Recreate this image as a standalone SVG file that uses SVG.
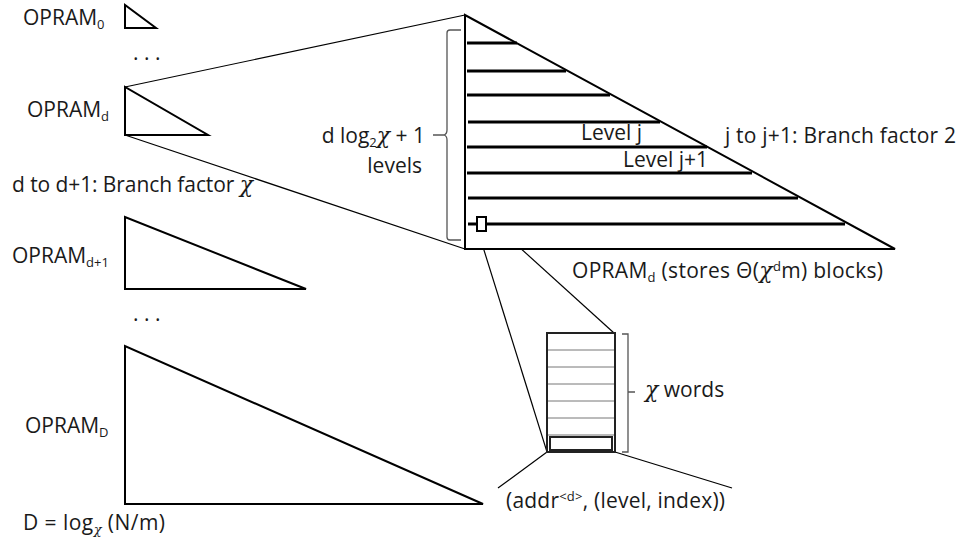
<svg xmlns="http://www.w3.org/2000/svg" width="963" height="546" viewBox="0 0 963 546">
<style>
text{font-family:"Open Sans","Noto Sans",sans-serif;font-size:21px;fill:#1a1a1a}
.sub{font-size:13px}
.chi{font-family:"DejaVu Serif","Liberation Serif",serif;font-style:italic;font-size:22px}
.tri{fill:#fff;stroke:#000;stroke-width:2;stroke-linejoin:miter}
.thin{stroke:#000;stroke-width:1.2;fill:none}
.lvl{stroke:#000;stroke-width:3}
.brace{stroke:#555;stroke-width:1.3;fill:none}
.row{stroke:#777;stroke-width:1}
</style>
<rect width="963" height="546" fill="#fff"/>
<g id="connectors">
<line class="thin" x1="125" y1="87" x2="465" y2="15"/>
<line class="thin" x1="125" y1="135" x2="465" y2="249"/>
<line class="thin" x1="486" y1="217" x2="614" y2="333"/>
<line class="thin" x1="478" y1="231" x2="547" y2="452"/>
<line class="thin" x1="547" y1="452" x2="498" y2="488"/>
<line class="thin" x1="615" y1="452" x2="732" y2="488"/>
</g>
<g id="opram0">
<polygon class="tri" points="125,5 125,28 156,28"/>
<text x="23" y="25">OPRAM<tspan class="sub" dy="4">0</tspan></text>
</g>
<text id="dots1" x="133" y="60">. . .</text>
<g id="opramd">
<polygon class="tri" points="125,87 125,135 208,135"/>
<text x="27" y="117">OPRAM<tspan class="sub" dy="4">d</tspan></text>
</g>
<text id="branch-chi" x="12" y="192" textLength="241">d to d+1: Branch factor <tspan class="chi">χ</tspan></text>
<g id="opramd1">
<polygon class="tri" points="125,217 125,289 306,289"/>
<text x="12" y="263">OPRAM<tspan class="sub" dy="4">d+1</tspan></text>
</g>
<text id="dots2" x="133" y="321">. . .</text>
<g id="opramD">
<polygon class="tri" points="125,346 125,504 483,504"/>
<text x="25" y="433">OPRAM<tspan class="sub" dy="4">D</tspan></text>
</g>
<text id="Ddef" x="23" y="530" textLength="142">D = log<tspan class="sub" dy="4" font-family="DejaVu Serif" font-style="italic">χ</tspan><tspan dy="-4"> (N/m)</tspan></text>
<g id="big-opramd">
<polygon class="tri" points="465,15 465,249 895,249"/>
<line class="lvl" x1="467" y1="43" x2="517" y2="43"/>
<line class="lvl" x1="467" y1="71" x2="566" y2="71"/>
<line class="lvl" x1="467" y1="95" x2="610" y2="95"/>
<line class="lvl" x1="468" y1="122" x2="660" y2="122"/>
<line class="lvl" x1="467" y1="147" x2="707" y2="147"/>
<line class="lvl" x1="467" y1="173" x2="752" y2="173"/>
<line class="lvl" x1="468" y1="198" x2="798" y2="198"/>
<line class="lvl" x1="468" y1="224" x2="845" y2="224"/>
<rect x="477" y="217" width="9" height="14" fill="#fff" stroke="#000" stroke-width="2"/>
<text x="581" y="140">Level j</text>
<text x="623" y="167">Level j+1</text>
<text x="572" y="278" textLength="311">OPRAM<tspan class="sub" dy="4">d</tspan><tspan dy="-4"> (stores Θ(</tspan><tspan class="chi">χ</tspan><tspan class="sub" dy="-7">d</tspan><tspan dy="7">m) blocks)</tspan></text>
</g>
<g id="levels-brace">
<path class="brace" d="M461,30 H450 Q447,30 447,33 V130 Q447,134 444,135 Q447,136 447,140 V237 Q447,240 450,240 H461 M433,135 H444"/>
<text x="425" y="143" text-anchor="end">d log<tspan class="sub" dy="4">2</tspan><tspan class="chi" dy="-4">χ</tspan> + 1</text>
<text x="422" y="173" text-anchor="end">levels</text>
</g>
<text id="branch-2" x="725" y="143" textLength="231">j to j+1: Branch factor 2</text>
<g id="block">
<rect x="547" y="333" width="68" height="119" fill="#fff" stroke="#222" stroke-width="2"/>
<line class="row" x1="548" y1="350" x2="614" y2="350"/>
<line class="row" x1="548" y1="367" x2="614" y2="367"/>
<line class="row" x1="548" y1="384" x2="614" y2="384"/>
<line class="row" x1="548" y1="401" x2="614" y2="401"/>
<line class="row" x1="548" y1="418" x2="614" y2="418"/>
<line class="row" x1="548" y1="435" x2="614" y2="435"/>
<rect x="550" y="437" width="62" height="13" fill="#fff" stroke="#222" stroke-width="2"/>
<path class="brace" d="M622,334 H628 V452 H622 M628,392 H635"/>
<text x="645" y="397"><tspan class="chi">χ</tspan> words</text>
<text x="506" y="508" textLength="219">(addr<tspan class="sub" dy="-7">&lt;d&gt;</tspan><tspan dy="7">, (level, index))</tspan></text>
</g>
</svg>
